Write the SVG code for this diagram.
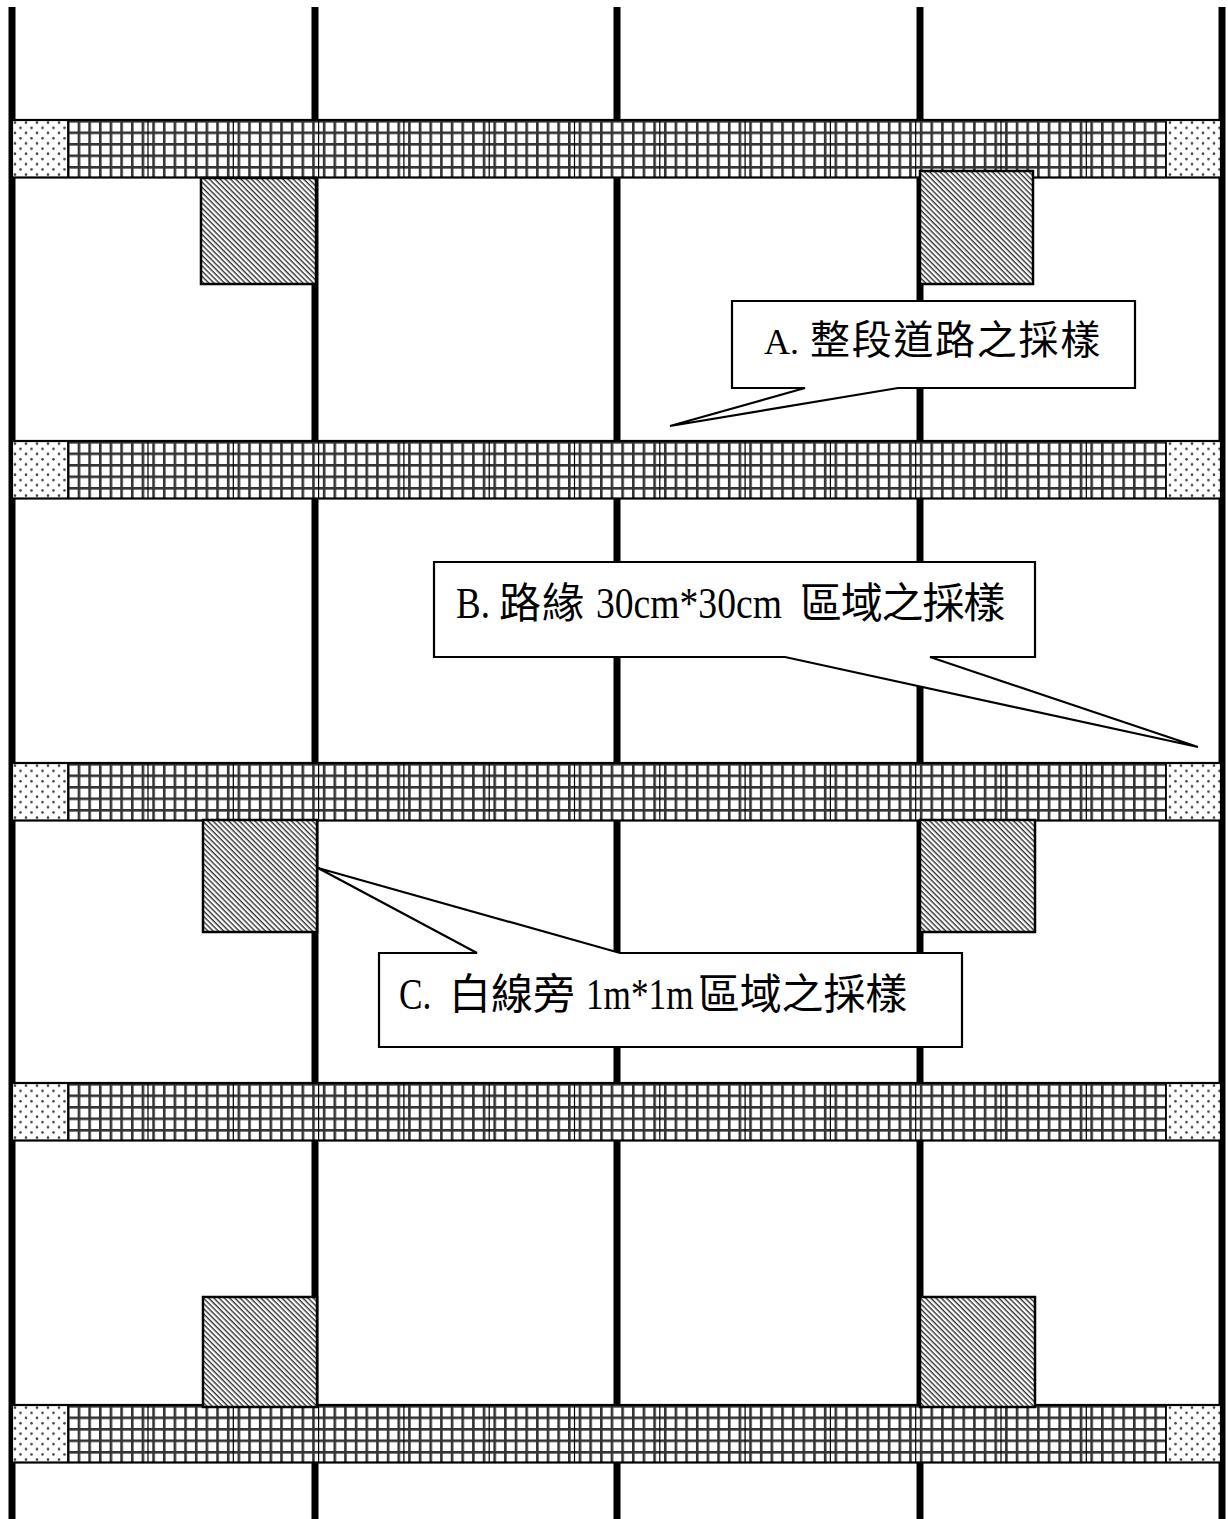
<svg xmlns="http://www.w3.org/2000/svg" xmlns:xlink="http://www.w3.org/1999/xlink" width="1228" height="1519" viewBox="0 0 1228 1519">
<style>
.vline{fill:#000}
.box{fill:url(#hatch);stroke:#000;stroke-width:2.5}
.callout{fill:#fff;stroke:#000;stroke-width:2.2;stroke-linejoin:miter}
.lat{font-family:"Liberation Serif","Times New Roman",serif;fill:#000}
.cjk{font-family:"Noto Sans CJK TC","Noto Sans CJK SC",sans-serif;fill:#000}
.major{stroke:#000;stroke-width:1.2;fill:none}
</style>
<defs>
<pattern id="grid" patternUnits="userSpaceOnUse" x="67" y="0" width="10.66" height="11.5">
<rect width="10.66" height="11.5" fill="#fff"/>
<rect x="0" y="0" width="2.6" height="11.5" fill="#333"/>
<rect x="0" y="0" width="10.66" height="2.6" fill="#333"/>
</pattern>
<pattern id="dots" patternUnits="userSpaceOnUse" x="12" y="0" width="11" height="10.4">
<rect width="11" height="10.4" fill="#fff"/>
<circle cx="3" cy="2.6" r="1.3" fill="#444"/>
<circle cx="8.5" cy="7.8" r="1.3" fill="#444"/>
</pattern>
<pattern id="hatch" patternUnits="userSpaceOnUse" width="6" height="3.7" patternTransform="rotate(45)">
<rect width="6" height="3.7" fill="#fff"/>
<rect x="0" y="0" width="6" height="1.4" fill="#333"/>
</pattern>
<g id="band">
<rect x="68" y="0" width="1098" height="57.5" fill="url(#grid)"/>
<path class="major" d="M148,0V57.5M233.3,0V57.5M318.6,0V57.5M403.9,0V57.5M489.2,0V57.5M574.5,0V57.5M659.8,0V57.5M745.1,0V57.5M830.4,0V57.5M915.7,0V57.5M1001,0V57.5M1086.3,0V57.5"/>
<rect x="12" y="0" width="56" height="57.5" fill="url(#dots)"/>
<rect x="1166" y="0" width="55" height="57.5" fill="url(#dots)"/>
<path d="M68,0V57.5M1166,0V57.5" stroke="#000" stroke-width="1.8"/>
<rect x="12" y="0" width="1209" height="57.5" fill="none" stroke="#000" stroke-width="2.2"/>
</g>
</defs>

<g id="verticals">
<rect class="vline" x="8.5" y="7" width="7" height="1512"/>
<rect class="vline" x="311.5" y="7" width="7" height="1512"/>
<rect class="vline" x="613.5" y="7" width="7" height="1512"/>
<rect class="vline" x="916.5" y="7" width="7" height="1512"/>
<rect class="vline" x="1218.5" y="7" width="7" height="1512"/>
</g>

<g id="bands">
<use xlink:href="#band" href="#band" transform="translate(0,120)"/>
<use xlink:href="#band" href="#band" transform="translate(0,441)"/>
<use xlink:href="#band" href="#band" transform="translate(0,763)"/>
<use xlink:href="#band" href="#band" transform="translate(0,1083)"/>
<use xlink:href="#band" href="#band" transform="translate(0,1405)"/>
</g>

<g id="samples">
<rect class="box" x="201" y="178" width="115" height="106"/>
<rect class="box" x="920" y="171" width="113" height="113"/>
<rect class="box" x="203" y="820" width="114" height="112"/>
<rect class="box" x="920" y="820" width="115" height="112"/>
<rect class="box" x="203" y="1297" width="114" height="110"/>
<rect class="box" x="920" y="1297" width="115" height="110"/>
</g>

<g id="callout-a">
<path class="callout" d="M732,301H1135V388H898L670,426L805,388H732Z"/>
<text y="354"><tspan class="lat" x="764" font-size="36">A.</tspan><tspan class="cjk" x="810" font-size="40" letter-spacing="1.7">整段道路之採樣</tspan></text>
</g>

<g id="callout-b">
<path class="callout" d="M434,562H1035V657H930L1198,747L785,657H434Z"/>
<text class="lat" font-size="44" transform="translate(456,618) scale(0.84,1)">B.</text>
<text class="cjk" font-size="42" x="499" y="618" letter-spacing="1">路緣</text>
<text class="lat" font-size="44" transform="translate(596,618) scale(0.855,1)">30cm*30cm</text>
<text class="cjk" font-size="42" x="800" y="618" letter-spacing="-1.2">區域之採樣</text>
</g>

<g id="callout-c">
<path class="callout" d="M379,953H477L318,868L620,953H962V1047H379Z"/>
<text class="lat" font-size="44" transform="translate(399,1009) scale(0.8,1)">C.</text>
<text class="cjk" font-size="42" x="449" y="1009">白線旁</text>
<text class="lat" font-size="44" transform="translate(586,1009) scale(0.8,1)">1m*1m</text>
<text class="cjk" font-size="42" x="698" y="1009" letter-spacing="-0.2">區域之採樣</text>
</g>
</svg>
